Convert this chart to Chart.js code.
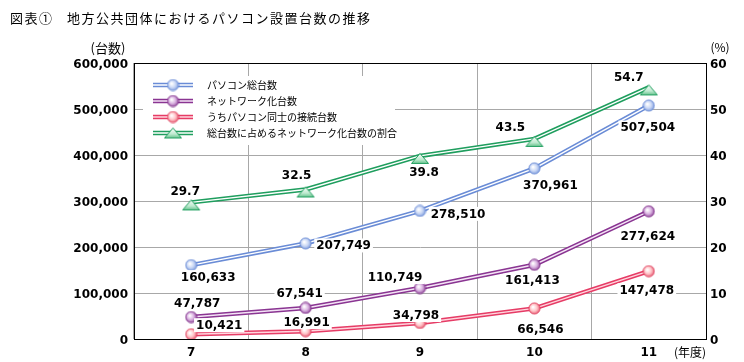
<!DOCTYPE html>
<html>
<head>
<meta charset="utf-8">
<script src="https://cdn.jsdelivr.net/npm/chart.js@4.4.1/dist/chart.umd.min.js"></script>
<style>
  html, body { margin: 0; padding: 0; background: #fff; }
</style>
</head>
<body>
<canvas id="chart" width="744" height="362"></canvas>
<script>
// data
const years = ['7', '8', '9', '10', '11'];
const pcTotal = [160633, 207749, 278510, 370961, 507504];
const networked = [47787, 67541, 110749, 161413, 277624];
const pcLinked = [10421, 16991, 34798, 66546, 147478];
const netRatio = [29.7, 32.5, 39.8, 43.5, 54.7];
const seriesNames = [
  'パソコン総台数',
  'ネットワーク化台数',
  'うちパソコン同士の接続台数',
  '総台数に占めるネットワーク化台数の割合'
];

const jp = '"Noto Sans CJK JP", "Noto Sans", sans-serif';
const num = '"DejaVu Sans", sans-serif';
const gridGrey = '#a8a8a8';

// small glossy markers
function ball(edge, light) {
  const c = document.createElement('canvas');
  c.width = c.height = 13;
  const g = c.getContext('2d');
  const grad = g.createRadialGradient(5, 5, 0.5, 6.5, 6.5, 6.5);
  grad.addColorStop(0, '#ffffff');
  grad.addColorStop(0.5, light);
  grad.addColorStop(1, edge);
  g.fillStyle = grad;
  g.beginPath();
  g.arc(6.5, 6.5, 5.6, 0, Math.PI * 2);
  g.fill();
  g.lineWidth = 0.8;
  g.strokeStyle = edge;
  g.stroke();
  return c;
}

function tri(edge, light) {
  const c = document.createElement('canvas');
  c.width = 20; c.height = 20;
  const g = c.getContext('2d');
  const grad = g.createLinearGradient(0, 7, 0, 18);
  grad.addColorStop(0, '#ffffff');
  grad.addColorStop(0.6, light);
  grad.addColorStop(1, '#5cbf86');
  g.fillStyle = grad;
  g.beginPath();
  g.moveTo(10, 7.5);
  g.lineTo(18.5, 17.5);
  g.lineTo(1.5, 17.5);
  g.closePath();
  g.fill();
  g.lineWidth = 1;
  g.strokeStyle = edge;
  g.stroke();
  return c;
}

const looks = [
  { edge: '#6a8cd6', inner: '#ffffff', img: ball('#6a8cd6', '#c9d7f5'), axis: 'y', legendDy: 0 },
  { edge: '#8a3592', inner: '#f4e4f6', img: ball('#80308a', '#d9b2e0'), axis: 'y', legendDy: 0 },
  { edge: '#e63c66', inner: '#ffd6de', img: ball('#e0405e', '#ffc4c8'), axis: 'y', legendDy: 0 },
  { edge: '#1f9e5e', inner: '#ffffff', img: tri('#1f9e5e', '#bfead0'), axis: 'y1', legendDy: -2.5 }
];
const seriesData = [pcTotal, networked, pcLinked, netRatio];

// label position relative to each point
const labelShift = [
  [[17, 12], [38, 2], [38, 3], [16, 17], [-1, 22]],
  [[6, -14], [-6, -15], [-25, -11], [-2, 16], [-1, 25]],
  [[28, -9], [1, -9], [-4, -8], [6, 21], [-2, 19]],
  [[-6, -11], [-9, -14], [4, 16], [-24, -12], [-20, -10]]
];

const datasets = [];
const pointSetIndex = [];
seriesData.forEach((d, i) => {
  const lk = looks[i];
  datasets.push({ label: seriesNames[i], data: d, yAxisID: lk.axis, borderColor: lk.edge,
    borderWidth: 4.5, pointRadius: 0, order: 3 });
  datasets.push({ data: d, yAxisID: lk.axis, borderColor: lk.inner,
    borderWidth: 1.4, pointRadius: 0, order: 2 });
  pointSetIndex.push(datasets.length);
  datasets.push({ data: d, yAxisID: lk.axis, showLine: false, pointStyle: lk.img,
    pointRadius: 6, order: 1 });
});

const extras = {
  id: 'extras',
  afterDatasetsDraw(chart) {
    const ctx = chart.ctx;
    const a = chart.chartArea;
    ctx.save();
    // top frame
    ctx.strokeStyle = '#000';
    ctx.lineWidth = 1;
    ctx.beginPath();
    ctx.moveTo(a.left, a.top + 0.5);
    ctx.lineTo(a.right, a.top + 0.5);
    ctx.stroke();

    // value labels
    ctx.font = 'bold 12px ' + num;
    ctx.textAlign = 'center';
    ctx.textBaseline = 'middle';
    pointSetIndex.forEach((di, s) => {
      const meta = chart.getDatasetMeta(di);
      meta.data.forEach((pt, j) => {
        const v = seriesData[s][j];
        const txt = s === 3 ? v.toFixed(1) : v.toLocaleString('en-US');
        const x = pt.x + labelShift[s][j][0];
        const y = pt.y + labelShift[s][j][1];
        const w = ctx.measureText(txt).width;
        ctx.fillStyle = '#fff';
        ctx.fillRect(x - w / 2 - 2, y - 7, w + 4, 14);
        ctx.fillStyle = '#000';
        ctx.fillText(txt, x, y + 0.5);
      });
    });

    // legend inside the plot
    ctx.fillStyle = '#fff';
    ctx.fillRect(143, 76, 252, 69);
    ctx.font = '10px ' + jp;
    ctx.textAlign = 'left';
    seriesNames.forEach((name, i) => {
      const y = 85 + i * 16;
      const lk = looks[i];
      ctx.strokeStyle = lk.edge;
      ctx.lineWidth = 4.5;
      ctx.beginPath(); ctx.moveTo(153, y); ctx.lineTo(193, y); ctx.stroke();
      ctx.strokeStyle = lk.inner;
      ctx.lineWidth = 1.4;
      ctx.beginPath(); ctx.moveTo(153, y); ctx.lineTo(193, y); ctx.stroke();
      ctx.drawImage(lk.img, 173 - lk.img.width / 2, y - lk.img.height / 2 + lk.legendDy);
      ctx.fillStyle = '#000';
      ctx.fillText(name, 207, y + 0.5);
    });
    ctx.restore();
  },
  afterDraw(chart) {
    const ctx = chart.ctx;
    ctx.save();
    ctx.fillStyle = '#000';
    ctx.textBaseline = 'middle';
    ctx.font = '13px ' + jp;
    ctx.letterSpacing = '1.5px';
    ctx.textAlign = 'left';
    ctx.fillText('図表①', 10, 18);
    ctx.fillText('地方公共団体におけるパソコン設置台数の推移', 67, 18);
    ctx.letterSpacing = '0px';
    ctx.textAlign = 'center';
    ctx.font = '13px ' + jp;
    ctx.fillText('(台数)', 108, 48);
    ctx.font = '12px ' + jp;
    ctx.fillText('(%)', 720, 47);
    ctx.fillText('(年度)', 690, 352);
    ctx.restore();
  }
};

new Chart(document.getElementById('chart'), {
  type: 'line',
  data: { labels: years, datasets: datasets },
  options: {
    responsive: false,
    animation: false,
    devicePixelRatio: 1,
    elements: { line: { tension: 0 } },
    layout: { padding: { top: 63, left: 0, right: 0, bottom: 0 } },
    plugins: { legend: { display: false }, tooltip: { enabled: false } },
    scales: {
      x: {
        offset: true,
        grid: { color: gridGrey, offset: true, drawTicks: false },
        border: { color: '#000' },
        ticks: { color: '#000', font: { family: num, size: 12, weight: 'bold' }, padding: 7 },
        afterFit(s) { s.height = 23; }
      },
      y: {
        position: 'left',
        min: 0, max: 600000,
        grid: { color: gridGrey, drawTicks: false },
        border: { color: '#000' },
        ticks: {
          stepSize: 100000, color: '#000', padding: 6, labelOffset: 2,
          font: { family: num, size: 12, weight: 'bold' },
          callback: v => v.toLocaleString('en-US')
        },
        afterFit(s) { s.width = 134; }
      },
      y1: {
        position: 'right',
        min: 0, max: 60,
        grid: { display: false, drawTicks: false },
        border: { color: '#000' },
        ticks: { stepSize: 10, color: '#000', padding: 4, labelOffset: 2,
          font: { family: num, size: 12, weight: 'bold' } },
        afterFit(s) { s.width = 38; }
      }
    }
  },
  plugins: [extras]
});
</script>
</body>
</html>
